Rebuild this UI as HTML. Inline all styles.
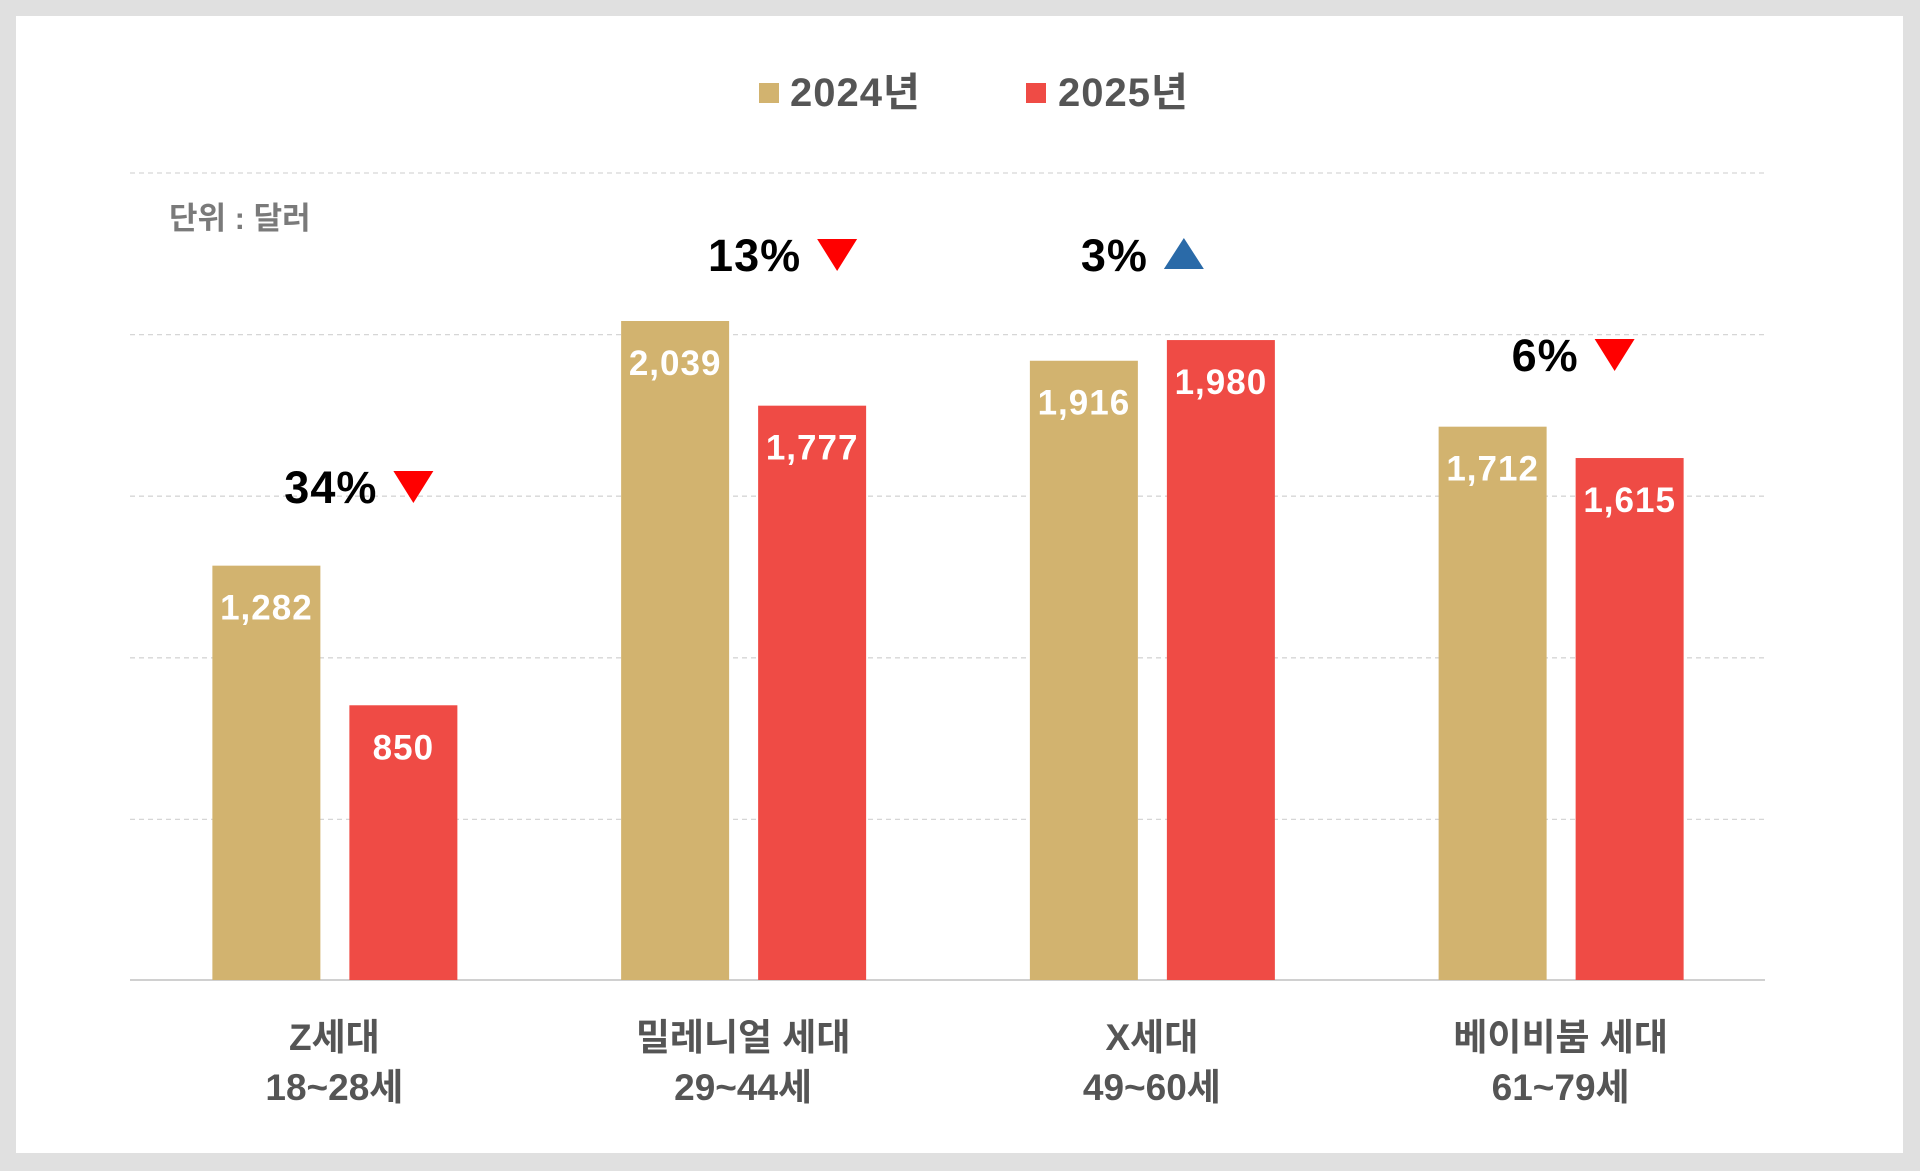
<!DOCTYPE html>
<html><head><meta charset="utf-8"><style>
body{margin:0;background:#e0e0e0;}
svg{display:block;font-family:"Liberation Sans","Noto Sans CJK KR",sans-serif;}
</style></head><body>
<svg id="chart" width="1920" height="1171">
<rect x="16" y="16" width="1887" height="1137" fill="#fff"/>
<g id="grid"></g>
<g id="bars"></g>
<g id="labels"></g>
<g>
<rect x="759" y="83" width="20" height="20" fill="#d2b36f"/>
<text x="790" y="106" font-size="40" font-weight="bold" fill="#555" letter-spacing="1">2024년</text>
<rect x="1026" y="83" width="20" height="20" fill="#ef4b45"/>
<text x="1058" y="106" font-size="40" font-weight="bold" fill="#555" letter-spacing="1">2025년</text>
</g>
<text x="169" y="229" font-size="31" font-weight="bold" fill="#7a7a7a">단위 : 달러</text>
</svg>
<script>
const categories=["Z세대","밀레니얼 세대","X세대","베이비붐 세대"];
const ageRanges=["18~28세","29~44세","49~60세","61~79세"];
const values2024=[1282,2039,1916,1712];
const values2025=[850,1777,1980,1615];
const changeLabels=["34%","13%","3%","6%"];
const changeDir=["down","down","up","down"];
const gridTicks=[0,500,1000,1500,2000,2500];
// annotation placement (layout, not data): text right-end offset from group centre, label centre y
const annotDx=[43,58,-4,18];
const annotY=[487,255,255,355];

const NS="http://www.w3.org/2000/svg";
const x0=130,x1=1765,base=980,perUnit=161.6/500;
const bw=(x1-x0)/categories.length;
const y=v=>base-v*perUnit;
function el(t,a,p){const e=document.createElementNS(NS,t);for(const k in a)e.setAttribute(k,a[k]);p.appendChild(e);return e;}
const grid=document.getElementById('grid'),bars=document.getElementById('bars'),labels=document.getElementById('labels');
gridTicks.forEach((t,i)=>{
  const l=el('line',{x1:x0,x2:x1,y1:y(t)+(i===0?0:1),y2:y(t)+(i===0?0:1),stroke:i===0?'#d0d0d0':'#d6d6d6','stroke-width':i===0?2:1.3,'stroke-dasharray':i===0?'none':'5,4'},grid);
  
  
});
function fmt(v){return v.toLocaleString('en-US');}
categories.forEach((c,i)=>{
  const cx=x0+bw*(i+0.5);
  [[values2024[i],'#d2b36f',cx-122,'bar-2024'],[values2025[i],'#ef4b45',cx+15,'bar-2025']].forEach(([v,col,bx,nm])=>{
    const r=el('rect',{x:bx,y:y(v),width:108,height:base-y(v),fill:col},bars);
    
    
    const t=el('text',{x:bx+54,y:y(v)+54,'text-anchor':'middle','font-size':35,'font-weight':'bold',fill:'#fff','letter-spacing':1},labels);
    t.textContent=fmt(v);
    
    
  });
  const ly=annotY[i];
  const tend=cx+annotDx[i];
  const pt=el('text',{x:tend,y:ly+16,'text-anchor':'end','font-size':45,'font-weight':'bold',fill:'#000','letter-spacing':1},labels);
  pt.textContent=changeLabels[i];
  
  
  const tx=tend+16,tw=20;
  const pts=changeDir[i]==='down'?`${tx},${ly-16} ${tx+2*tw},${ly-16} ${tx+tw},${ly+16}`:`${tx},${ly+14} ${tx+2*tw},${ly+14} ${tx+tw},${ly-17}`;
  const tri=el('polygon',{points:pts,fill:changeDir[i]==='down'?'#ff0000':'#2a6aa8'},labels);
  
  
  const c1=el('text',{x:cx,y:1050,'text-anchor':'middle','font-size':37,'font-weight':'bold',fill:'#555'},labels);
  c1.textContent=c;
  
  
  const c2=el('text',{x:cx,y:1100,'text-anchor':'middle','font-size':37,'font-weight':'bold',fill:'#555'},labels);
  c2.textContent=ageRanges[i];
  
  
});
</script>
</body></html>
